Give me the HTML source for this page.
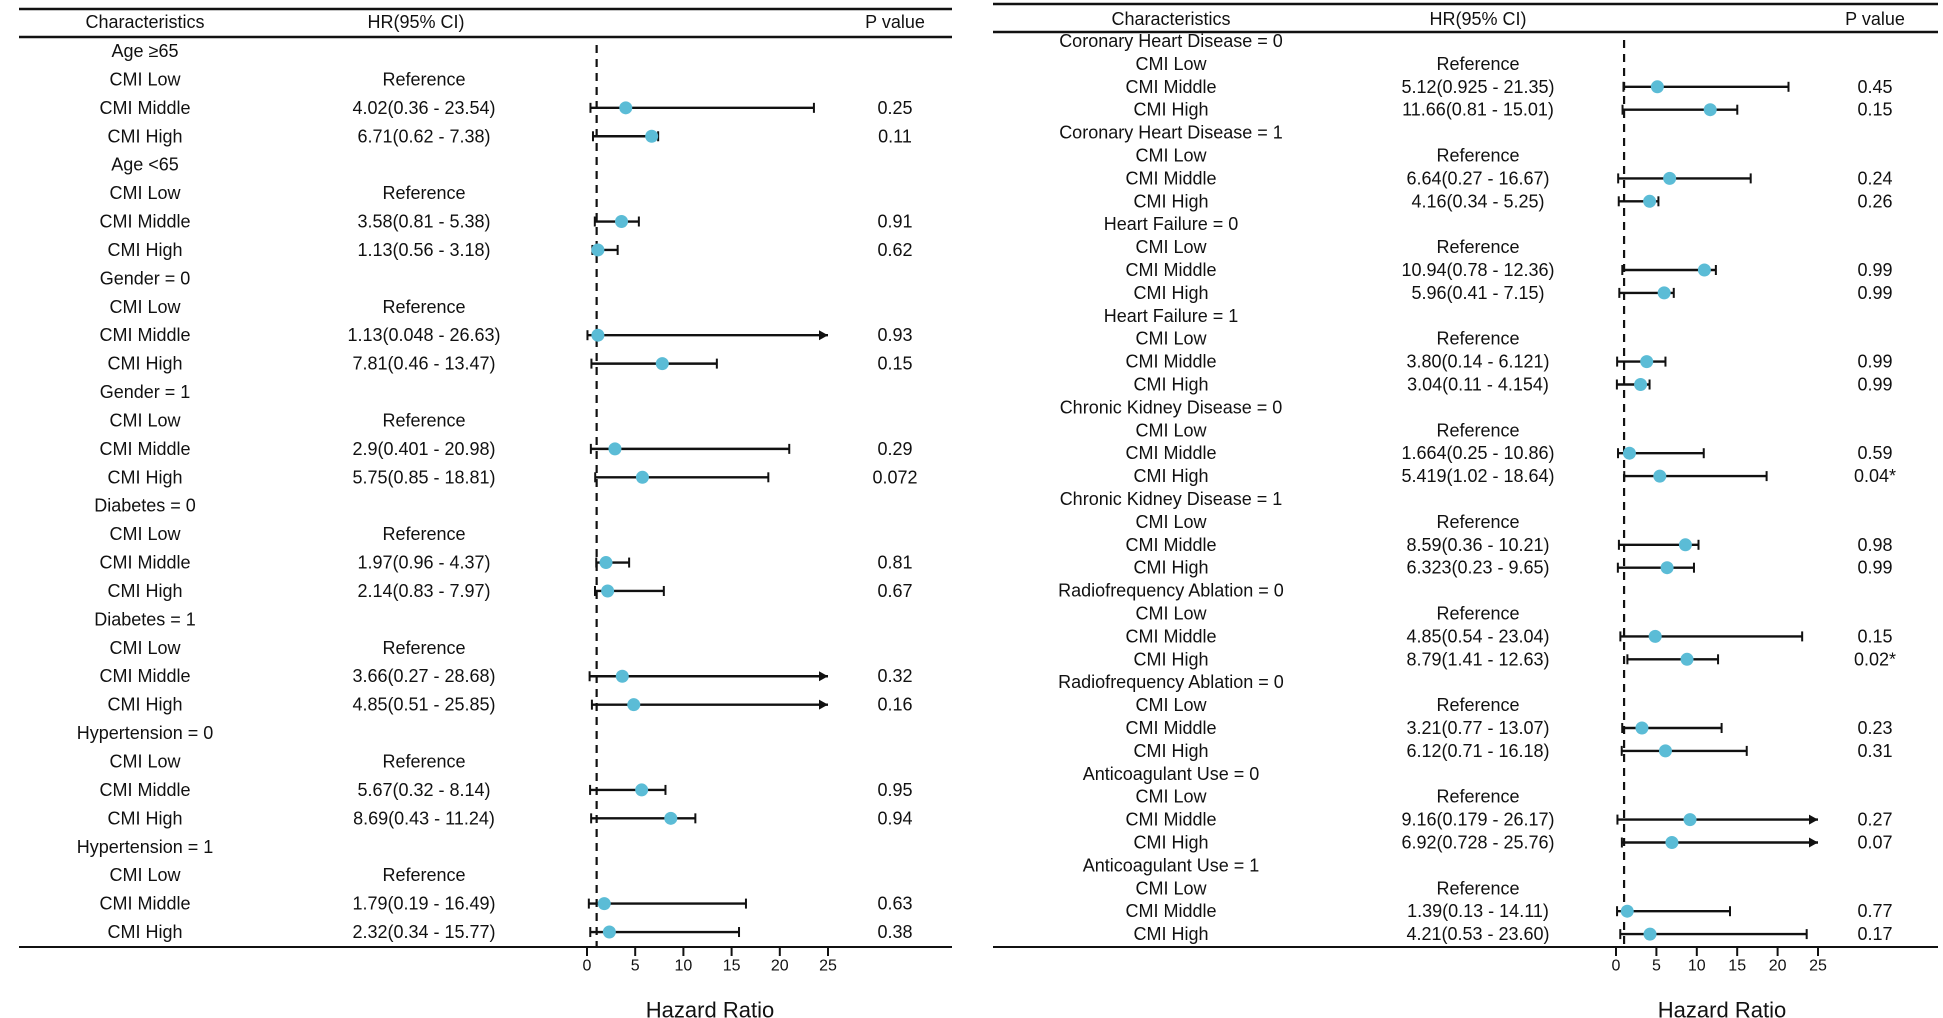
<!DOCTYPE html>
<html><head><meta charset="utf-8"><style>
html,body{margin:0;padding:0;background:#fff;}
svg{display:block;font-family:"Liberation Sans",sans-serif;}
</style></head><body>
<svg id="chart" width="1943" height="1018" viewBox="0 0 1943 1018" xmlns="http://www.w3.org/2000/svg"></svg>
<script>
// ---- Left panel data ----
const leftGroups = ["Age \u226565","Age <65","Gender = 0","Gender = 1","Diabetes = 0","Diabetes = 1","Hypertension = 0","Hypertension = 1"];
const leftHR =    [4.02,6.71, 3.58,1.13, 1.13,7.81, 2.9,5.75, 1.97,2.14, 3.66,4.85, 5.67,8.69, 1.79,2.32];
const leftLower = [0.36,0.62, 0.81,0.56, 0.048,0.46, 0.401,0.85, 0.96,0.83, 0.27,0.51, 0.32,0.43, 0.19,0.34];
const leftUpper = [23.54,7.38, 5.38,3.18, 26.63,13.47, 20.98,18.81, 4.37,7.97, 28.68,25.85, 8.14,11.24, 16.49,15.77];
const leftText = ["4.02(0.36 - 23.54)","6.71(0.62 - 7.38)","3.58(0.81 - 5.38)","1.13(0.56 - 3.18)","1.13(0.048 - 26.63)","7.81(0.46 - 13.47)","2.9(0.401 - 20.98)","5.75(0.85 - 18.81)","1.97(0.96 - 4.37)","2.14(0.83 - 7.97)","3.66(0.27 - 28.68)","4.85(0.51 - 25.85)","5.67(0.32 - 8.14)","8.69(0.43 - 11.24)","1.79(0.19 - 16.49)","2.32(0.34 - 15.77)"];
const leftP = ["0.25","0.11","0.91","0.62","0.93","0.15","0.29","0.072","0.81","0.67","0.32","0.16","0.95","0.94","0.63","0.38"];
// ---- Right panel data ----
const rightGroups = ["Coronary Heart Disease = 0","Coronary Heart Disease = 1","Heart Failure = 0","Heart Failure = 1","Chronic Kidney Disease = 0","Chronic Kidney Disease = 1","Radiofrequency Ablation = 0","Radiofrequency Ablation = 0","Anticoagulant Use = 0","Anticoagulant Use = 1"];
const rightHR =    [5.12,11.66, 6.64,4.16, 10.94,5.96, 3.80,3.04, 1.664,5.419, 8.59,6.323, 4.85,8.79, 3.21,6.12, 9.16,6.92, 1.39,4.21];
const rightLower = [0.925,0.81, 0.27,0.34, 0.78,0.41, 0.14,0.11, 0.25,1.02, 0.36,0.23, 0.54,1.41, 0.77,0.71, 0.179,0.728, 0.13,0.53];
const rightUpper = [21.35,15.01, 16.67,5.25, 12.36,7.15, 6.121,4.154, 10.86,18.64, 10.21,9.65, 23.04,12.63, 13.07,16.18, 26.17,25.76, 14.11,23.60];
const rightText = ["5.12(0.925 - 21.35)","11.66(0.81 - 15.01)","6.64(0.27 - 16.67)","4.16(0.34 - 5.25)","10.94(0.78 - 12.36)","5.96(0.41 - 7.15)","3.80(0.14 - 6.121)","3.04(0.11 - 4.154)","1.664(0.25 - 10.86)","5.419(1.02 - 18.64)","8.59(0.36 - 10.21)","6.323(0.23 - 9.65)","4.85(0.54 - 23.04)","8.79(1.41 - 12.63)","3.21(0.77 - 13.07)","6.12(0.71 - 16.18)","9.16(0.179 - 26.17)","6.92(0.728 - 25.76)","1.39(0.13 - 14.11)","4.21(0.53 - 23.60)"];
const rightP = ["0.45","0.15","0.24","0.26","0.99","0.99","0.99","0.99","0.59","0.04*","0.98","0.99","0.15","0.02*","0.23","0.31","0.27","0.07","0.77","0.17"];
const ticks = [0,5,10,15,20,25];

const svg = document.getElementById('chart');
const NS = 'http://www.w3.org/2000/svg';
function mk(tag, attrs, parent){const e=document.createElementNS(NS,tag);for(const k in attrs)e.setAttribute(k,attrs[k]);(parent||svg).appendChild(e);return e;}
function txt(x,y,s,size,anchor,parent){const t=mk('text',{x:x,y:y,'font-size':size,'text-anchor':anchor||'middle','dominant-baseline':'central',fill:'#111'},parent);t.textContent=s;return t;}

function panel(cfg){
  const g = mk('g',{});
  
  
  const X = v => cfg.x0 + v*cfg.pxPer;
  // rules
  const r1=mk('line',{x1:cfg.L,x2:cfg.R,y1:cfg.topRule,y2:cfg.topRule,stroke:'#111','stroke-width':2.5},g);
   
  const r2=mk('line',{x1:cfg.L,x2:cfg.R,y1:cfg.headRule,y2:cfg.headRule,stroke:'#111','stroke-width':2.5},g);
   
  const r3=mk('line',{x1:cfg.L,x2:cfg.R,y1:cfg.axisY,y2:cfg.axisY,stroke:'#111','stroke-width':2},g);
   
  // headers
  let h=txt(cfg.cChar,cfg.headY,'Characteristics',18,'middle',g);
   
  h=txt(cfg.cHRh,cfg.headY,'HR(95% CI)',18,'middle',g);
   
  h=txt(cfg.cP,cfg.headY,'P value',18,'middle',g);
   
  // reference line
  const ref=mk('line',{x1:X(1),x2:X(1),y1:cfg.headRule+8,y2:cfg.axisY,stroke:'#111','stroke-width':2.2,'stroke-dasharray':'8,6'},g);
   
  // ticks
  ticks.forEach(t=>{
    const tl=mk('line',{x1:X(t),x2:X(t),y1:cfg.axisY,y2:cfg.axisY+9,stroke:'#111','stroke-width':2},g);
     
    const tt=txt(X(t),cfg.axisY+19,String(t),16,'middle',g);
     
  });
  const at=mk('text',{x:cfg.hrLabelX,y:1010,'font-size':22,'text-anchor':'middle','dominant-baseline':'central',fill:'#111'},g);
  at.textContent='Hazard Ratio';
   
  // rows
  let row=0, k=0;
  cfg.groups.forEach(gr=>{
    const yG=cfg.y0+row*cfg.step;
    const gt=txt(cfg.cChar,yG,gr,18,'middle',g);
     
    row++;
    const yL=cfg.y0+row*cfg.step;
    let t=txt(cfg.cChar,yL,'CMI Low',18,'middle',g);
     
    t=txt(cfg.cHR,yL,'Reference',18,'middle',g);
     
    row++;
    ['CMI Middle','CMI High'].forEach(lab=>{
      const y=cfg.y0+row*cfg.step;
      let a=txt(cfg.cChar,y,lab,18,'middle',g);
       
      a=txt(cfg.cHR,y,cfg.text[k],18,'middle',g);
       
      a=txt(cfg.cP,y,cfg.p[k],18,'middle',g);
       
      const lo=cfg.lower[k], hiRaw=cfg.upper[k], clipped=hiRaw>25, hi=Math.min(hiRaw,25);
      const ci=mk('line',{x1:X(lo),x2:X(hi),y1:y,y2:y,stroke:'#111','stroke-width':2.4},g);
       
      const c1=mk('line',{x1:X(lo),x2:X(lo),y1:y-5,y2:y+5,stroke:'#111','stroke-width':2},g);
       
      if(clipped){
        const ar=mk('polygon',{points:`${X(hi)},${y} ${X(hi)-9},${y-5} ${X(hi)-9},${y+5}`,fill:'#111'},g);
         
      } else {
        const c2=mk('line',{x1:X(hi),x2:X(hi),y1:y-5,y2:y+5,stroke:'#111','stroke-width':2},g);
         
      }
      const pt=mk('circle',{cx:X(cfg.hr[k]),cy:y,r:6.5,fill:'#5bbcd6'},g);
       
      row++; k++;
    });
  });
}

panel({name:'left-forest-panel',groups:leftGroups,hr:leftHR,lower:leftLower,upper:leftUpper,text:leftText,p:leftP,
  L:19,R:952,topRule:9,headY:22,headRule:37,axisY:947,y0:51,step:28.42,x0:587,pxPer:9.64,
  cChar:145,cHR:424,cHRh:416,cP:895,hrLabelX:710});
panel({name:'right-forest-panel',groups:rightGroups,hr:rightHR,lower:rightLower,upper:rightUpper,text:rightText,p:rightP,
  L:993,R:1938,topRule:4,headY:19,headRule:32,axisY:947,y0:41,step:22.9,x0:1616,pxPer:8.08,
  cChar:1171,cHR:1478,cHRh:1478,cP:1875,hrLabelX:1722});
</script>
</body></html>
